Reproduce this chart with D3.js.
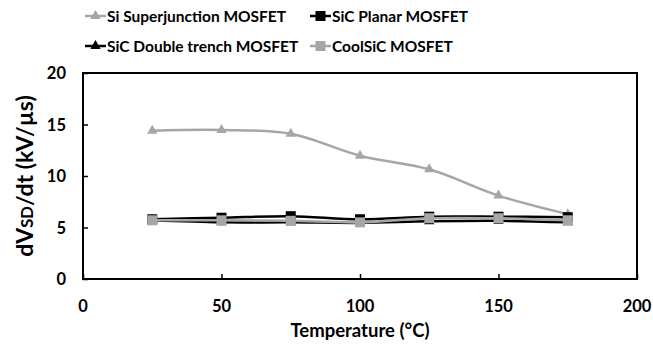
<!DOCTYPE html>
<html>
<head>
<meta charset="utf-8">
<script src="https://cdn.jsdelivr.net/npm/d3@7"></script>
<style>
  body { margin: 0; background: #fff; }
  svg text { font-family: Lato, "Open Sans", sans-serif; font-weight: bold; }
</style>
</head>
<body>
<div id="chart"></div>
<script>
const temperatures = [25, 50, 75, 100, 125, 150, 175];
const siSuperjunction = [14.4, 14.47, 14.1, 11.97, 10.65, 8.1, 6.3];
const sicPlanar = [5.8, 5.95, 6.1, 5.8, 6.05, 6.05, 6.0];
const sicDoubleTrench = [5.7, 5.5, 5.5, 5.45, 5.6, 5.65, 5.5];
const coolSic = [5.7, 5.7, 5.65, 5.5, 5.9, 5.9, 5.7];
const xTicks = [0, 50, 100, 150, 200];
const yTicks = [0, 5, 10, 15, 20];

const seriesList = [
  {name: "Si Superjunction MOSFET", values: siSuperjunction, color: "#a6a6a6", marker: "triangle", width: 2.5},
  {name: "SiC Planar MOSFET", values: sicPlanar, color: "#000000", marker: "square", width: 2.5},
  {name: "SiC Double trench MOSFET", values: sicDoubleTrench, color: "#000000", marker: "triangle", width: 2.5},
  {name: "CoolSiC MOSFET", values: coolSic, color: "#a6a6a6", marker: "square", width: 2.5}
];

const width = 653, height = 346;
const margin = {top: 73, right: 16, bottom: 67, left: 83};

const svg = d3.select("#chart")
  .append("svg")
  .attr("width", width)
  .attr("height", height);

const xScale = d3.scaleLinear()
  .domain([0, 200])
  .range([margin.left, width - margin.right]);

const yScale = d3.scaleLinear()
  .domain([0, 20])
  .range([height - margin.bottom, margin.top]);

// plot frame
svg.append("rect")
  .attr("x", xScale(0))
  .attr("y", yScale(20))
  .attr("width", xScale(200) - xScale(0))
  .attr("height", yScale(0) - yScale(20))
  .attr("fill", "none")
  .attr("stroke", "#000")
  .attr("stroke-width", 2);

const xAxis = d3.axisTop(xScale).tickValues(xTicks).tickSize(5).tickFormat("");
svg.append("g")
  .attr("transform", `translate(0,${yScale(0)})`)
  .call(xAxis)
  .call(g => g.select(".domain").remove())
  .call(g => g.selectAll("line").attr("stroke-width", 1.5));

svg.append("g")
  .selectAll("text")
  .data(xTicks)
  .enter()
  .append("text")
  .attr("x", d => xScale(d))
  .attr("y", yScale(0) + 33)
  .attr("text-anchor", "middle")
  .style("font-size", "16.5px")
  .text(d => d);

const yAxis = d3.axisRight(yScale).tickValues(yTicks).tickSize(5).tickFormat("");
svg.append("g")
  .attr("transform", `translate(${xScale(0)},0)`)
  .call(yAxis)
  .call(g => g.select(".domain").remove())
  .call(g => g.selectAll("line").attr("stroke-width", 1.5));

svg.append("g")
  .selectAll("text")
  .data(yTicks)
  .enter()
  .append("text")
  .attr("x", 66)
  .attr("y", d => yScale(d) + 6)
  .attr("text-anchor", "end")
  .style("font-size", "16.5px")
  .text(d => d);

// axis titles
svg.append("text")
  .attr("x", (xScale(0) + xScale(200)) / 2)
  .attr("y", 337)
  .attr("text-anchor", "middle")
  .style("font-size", "18.5px")
  .text("Temperature (°C)");

const yTitle = svg.append("text")
  .attr("transform", `translate(33,${(yScale(0) + yScale(20)) / 2}) rotate(-90)`)
  .attr("text-anchor", "middle")
  .style("font-size", "23px");
yTitle.append("tspan").text("dV");
yTitle.append("tspan").style("font-size", "0.72em").text("SD");
yTitle.append("tspan").text("/dt (kV/µs)");

const line = d3.line()
  .x((d, i) => xScale(temperatures[i]))
  .y(d => yScale(d))
  .curve(d3.curveCatmullRom.alpha(0.5));

function drawMarker(g, type, x, y, color) {
  if (type === "square") {
    g.append("rect")
      .attr("x", x - 5)
      .attr("y", y - 5)
      .attr("width", 10)
      .attr("height", 10)
      .attr("fill", color);
  } else {
    g.append("path")
      .attr("d", d3.symbol(d3.symbolTriangle, 46)())
      .attr("transform", `translate(${x},${y})`)
      .attr("fill", color);
  }
}

seriesList.forEach(s => {
  const g = svg.append("g");
  g.append("path")
    .datum(s.values)
    .attr("d", line)
    .attr("fill", "none")
    .attr("stroke", s.color)
    .attr("stroke-width", s.width);
  s.values.forEach((v, i) => drawMarker(g, s.marker, xScale(temperatures[i]), yScale(v), s.color));
});

// legend
const legendPos = [[85, 16], [310, 16], [85, 46], [310, 46]];
seriesList.forEach((s, i) => {
  const [lx, ly] = legendPos[i];
  const g = svg.append("g");
  g.append("line")
    .attr("x1", lx).attr("x2", lx + 21)
    .attr("y1", ly).attr("y2", ly)
    .attr("stroke", s.color)
    .attr("stroke-width", s.width);
  drawMarker(g, s.marker, lx + 10.5, ly, s.color);
  g.append("text")
    .attr("x", lx + 22)
    .attr("y", ly + 5.5)
    .style("font-size", "15.5px")
    .text(s.name);
});
</script>
</body>
</html>
